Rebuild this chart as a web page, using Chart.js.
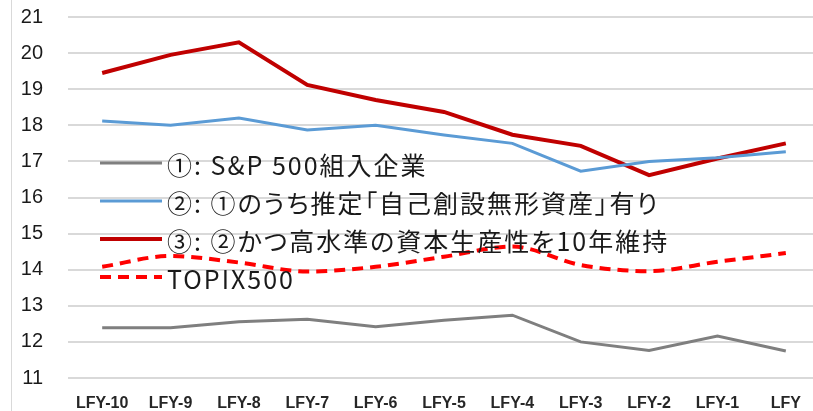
<!DOCTYPE html>
<html>
<head>
<meta charset="utf-8">
<script src="https://cdn.jsdelivr.net/npm/chart.js@4"></script>
<style>
  html, body { margin: 0; padding: 0; background: #fff; overflow: hidden; }
  #wrap { position: relative; width: 820px; height: 411px; }
  #legend .item {
    position: absolute;
    left: 167px;
    height: 30px;
    line-height: 30px;
    white-space: nowrap;
    font-family: 'Noto Sans CJK JP', 'Noto Sans', sans-serif;
    font-size: 25px;
    letter-spacing: 2px;
    font-feature-settings: "palt";
    color: #1a1a1a;
  }
</style>
</head>
<body>
<div id="wrap">
  <canvas id="chart1" width="820" height="411"></canvas>
  <div id="legend"></div>
</div>
<script>
// data
var labels = ["LFY-10", "LFY-9", "LFY-8", "LFY-7", "LFY-6", "LFY-5", "LFY-4", "LFY-3", "LFY-2", "LFY-1", "LFY"];
var sp500 = [12.39, 12.39, 12.56, 12.63, 12.42, 12.6, 12.74, 12.0, 11.76, 12.16, 11.75];
var intangible = [18.12, 18.0, 18.2, 17.87, 18.0, 17.73, 17.5, 16.73, 17.0, 17.1, 17.27];
var highProd = [19.45, 19.95, 20.3, 19.12, 18.7, 18.37, 17.74, 17.43, 16.62, 17.08, 17.5];
var topix = [14.08, 14.38, 14.2, 13.95, 14.08, 14.36, 14.64, 14.13, 13.96, 14.22, 14.46];
var seriesNames = [
  "①: S&P 500組入企業",
  "②: ①のうち推定「自己創設無形資産」有り",
  "③: ②かつ高水準の資本生産性を10年維持",
  "TOPIX500"
];
var yTicks = [11, 12, 13, 14, 15, 16, 17, 18, 19, 20, 21];

var LEG_TOP = 163;
var LEG_STEP = 38;

// legend sits inside the plot like the excel one (line samples here, text is html)
var legendLines = {
  id: "legendLines",
  afterDraw: function (chart) {
    var ctx = chart.ctx;
    var sets = chart.data.datasets;
    ctx.save();
    for (var i = 0; i < sets.length; i++) {
      var ds = sets[i];
      var y = LEG_TOP + i * LEG_STEP;
      ctx.strokeStyle = ds.borderColor;
      ctx.lineWidth = ds.borderWidth;
      ctx.setLineDash(ds.borderDash || []);
      ctx.beginPath();
      ctx.moveTo(100, y);
      ctx.lineTo(162, y);
      ctx.stroke();
    }
    ctx.restore();
  }
};

var frameLine = {
  id: "frameLine",
  beforeDraw: function (chart) {
    var ctx = chart.ctx;
    ctx.save();
    ctx.strokeStyle = "#d9d9d9";
    ctx.lineWidth = 1;
    ctx.beginPath();
    ctx.moveTo(11.5, 0);
    ctx.lineTo(11.5, 411);
    ctx.stroke();
    ctx.restore();
  }
};

var ctx = document.getElementById("chart1").getContext("2d");
var myChart = new Chart(ctx, {
  type: "line",
  data: {
    labels: labels,
    datasets: [
      {
        label: seriesNames[0],
        data: sp500,
        borderColor: "#7f7f7f",
        borderWidth: 3,
        tension: 0
      },
      {
        label: seriesNames[1],
        data: intangible,
        borderColor: "#5b9bd5",
        borderWidth: 3,
        tension: 0
      },
      {
        label: seriesNames[2],
        data: highProd,
        borderColor: "#c00000",
        borderWidth: 4,
        tension: 0
      },
      {
        label: seriesNames[3],
        data: topix,
        borderColor: "#ff0000",
        borderWidth: 4,
        borderDash: [11, 7],
        tension: 0.4,
        cubicInterpolationMode: "monotone"
      }
    ]
  },
  options: {
    responsive: false,
    animation: false,
    devicePixelRatio: 1,
    layout: { padding: { top: 17, left: 0, right: 0, bottom: 0 } },
    elements: { point: { radius: 0 } },
    plugins: {
      legend: { display: false },
      tooltip: { enabled: false }
    },
    scales: {
      x: {
        offset: true,
        grid: { display: false, drawTicks: false },
        border: { display: false },
        ticks: {
          color: "#262626",
          font: { family: "'Liberation Sans', Arial, sans-serif", size: 16, weight: "bold" },
          maxRotation: 0,
          autoSkip: false,
          padding: 16
        },
        afterFit: function (scale) {
          scale.height = 33;
          scale.paddingLeft = 0;
          scale.paddingRight = 0;
        }
      },
      y: {
        min: 11,
        max: 21,
        afterBuildTicks: function (scale) {
          scale.ticks = yTicks.map(function (v) { return { value: v }; });
        },
        grid: { color: "#d9d9d9", lineWidth: 2, drawTicks: false },
        border: { display: false },
        ticks: {
          color: "#1a1a1a",
          font: { family: "'Liberation Sans', Arial, sans-serif", size: 20 },
          padding: 25
        },
        afterFit: function (scale) {
          scale.width = 68;
          // stop the tick padding from pushing the plot down
          scale.paddingTop = 0;
          scale.paddingBottom = 0;
        }
      }
    }
  },
  plugins: [frameLine, legendLines]
});

// legend texts from the dataset labels
var legendBox = document.getElementById("legend");
myChart.data.datasets.forEach(function (ds, i) {
  var el = document.createElement("div");
  el.className = "item";
  el.style.top = (LEG_TOP + i * LEG_STEP - 15 + 1) + "px";
  el.textContent = ds.label;
  legendBox.appendChild(el);
});
</script>
</body>
</html>
